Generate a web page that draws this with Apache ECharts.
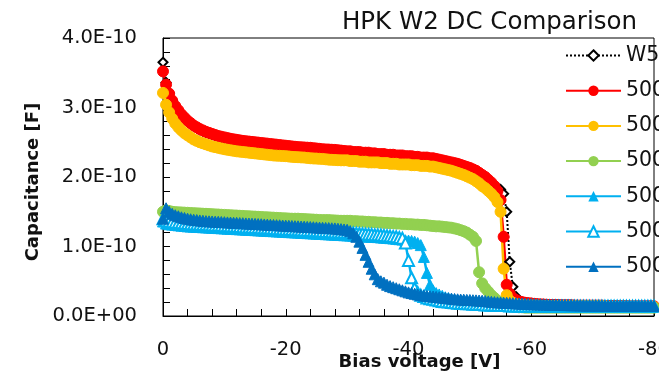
<!DOCTYPE html>
<html><head><meta charset="utf-8">
<script src="https://cdn.jsdelivr.net/npm/echarts@6/dist/echarts.min.js"></script>
<style>html,body{margin:0;padding:0;background:#fff}#c{width:659px;height:377px}</style>
</head><body><div id="c"></div>
<script>
// Bias voltage [V], one row per 5 V
const voltage = [
 0,-0.5,-1,-1.5,-2,-2.5,-3,-3.5,-4,-4.5,
 -5,-5.5,-6,-6.5,-7,-7.5,-8,-8.5,-9,-9.5,
 -10,-10.5,-11,-11.5,-12,-12.5,-13,-13.5,-14,-14.5,
 -15,-15.5,-16,-16.5,-17,-17.5,-18,-18.5,-19,-19.5,
 -20,-20.5,-21,-21.5,-22,-22.5,-23,-23.5,-24,-24.5,
 -25,-25.5,-26,-26.5,-27,-27.5,-28,-28.5,-29,-29.5,
 -30,-30.5,-31,-31.5,-32,-32.5,-33,-33.5,-34,-34.5,
 -35,-35.5,-36,-36.5,-37,-37.5,-38,-38.5,-39,-39.5,
 -40,-40.5,-41,-41.5,-42,-42.5,-43,-43.5,-44,-44.5,
 -45,-45.5,-46,-46.5,-47,-47.5,-48,-48.5,-49,-49.5,
 -50,-50.5,-51,-51.5,-52,-52.5,-53,-53.5,-54,-54.5,
 -55,-55.5,-56,-56.5,-57,-57.5,-58,-58.5,-59,-59.5,
 -60,-60.5,-61,-61.5,-62,-62.5,-63,-63.5,-64,-64.5,
 -65,-65.5,-66,-66.5,-67,-67.5,-68,-68.5,-69,-69.5,
 -70,-70.5,-71,-71.5,-72,-72.5,-73,-73.5,-74,-74.5,
 -75,-75.5,-76,-76.5,-77,-77.5,-78,-78.5,-79,-79.5,
 -80];

// Capacitance in units of 1E-10 F (same rows as voltage)
const capW5 = [
 3.65,3.36,3.21,3.10,3.01,2.95,2.89,2.845,2.80,2.765,
 2.73,2.705,2.68,2.66,2.64,2.625,2.61,2.595,2.58,2.57,
 2.56,2.55,2.54,2.532,2.525,2.517,2.51,2.505,2.50,2.495,
 2.49,2.485,2.48,2.475,2.47,2.465,2.46,2.455,2.45,2.445,
 2.44,2.435,2.43,2.425,2.42,2.418,2.415,2.412,2.41,2.405,
 2.40,2.395,2.39,2.387,2.385,2.382,2.38,2.375,2.37,2.365,
 2.36,2.36,2.35,2.35,2.35,2.34,2.34,2.34,2.33,2.33,
 2.32,2.32,2.32,2.31,2.31,2.31,2.30,2.30,2.30,2.29,
 2.29,2.29,2.28,2.28,2.27,2.27,2.27,2.26,2.26,2.25,
 2.24,2.23,2.22,2.21,2.20,2.19,2.18,2.165,2.15,2.135,
 2.12,2.10,2.08,2.05,2.02,1.99,1.95,1.92,1.88,1.85,
 1.82,1.76,1.50,0.78,0.42,0.28,0.22,0.20,0.19,0.185,
 0.18,0.175,0.17,0.167,0.165,0.162,0.16,0.16,0.16,0.157,
 0.155,0.155,0.155,0.155,0.15,0.15,0.15,0.15,0.15,0.15,
 0.15,0.15,0.15,0.15,0.145,0.145,0.145,0.145,0.145,0.145,
 0.145,0.145,0.14,0.14,0.14,0.14,0.14,0.14,0.14,0.14,
 0.14];

const capRed = [
 3.52,3.33,3.20,3.10,3.02,2.96,2.90,2.855,2.81,2.775,
 2.74,2.715,2.69,2.67,2.65,2.635,2.62,2.605,2.59,2.58,
 2.57,2.56,2.55,2.542,2.535,2.527,2.52,2.515,2.51,2.505,
 2.50,2.495,2.49,2.485,2.48,2.475,2.47,2.465,2.46,2.455,
 2.45,2.445,2.44,2.435,2.43,2.428,2.425,2.422,2.42,2.415,
 2.41,2.405,2.40,2.397,2.395,2.392,2.39,2.385,2.38,2.375,
 2.37,2.37,2.36,2.36,2.36,2.35,2.35,2.35,2.34,2.34,
 2.33,2.33,2.33,2.32,2.32,2.32,2.31,2.31,2.31,2.30,
 2.30,2.30,2.29,2.29,2.28,2.28,2.28,2.27,2.27,2.26,
 2.25,2.24,2.23,2.22,2.21,2.20,2.19,2.175,2.16,2.145,
 2.13,2.11,2.09,2.06,2.03,2.00,1.96,1.92,1.87,1.80,
 1.67,1.14,0.45,0.32,0.26,0.23,0.21,0.20,0.19,0.185,
 0.18,0.175,0.17,0.167,0.165,0.162,0.16,0.16,0.16,0.157,
 0.155,0.155,0.155,0.155,0.15,0.15,0.15,0.15,0.15,0.15,
 0.15,0.15,0.15,0.15,0.145,0.145,0.145,0.145,0.145,0.145,
 0.145,0.145,0.14,0.14,0.14,0.14,0.14,0.14,0.14,0.14,
 0.14];

const capYellow = [
 3.21,3.04,2.93,2.84,2.77,2.715,2.67,2.63,2.60,2.57,
 2.54,2.52,2.50,2.485,2.47,2.455,2.44,2.43,2.42,2.41,
 2.40,2.392,2.385,2.377,2.37,2.365,2.36,2.355,2.35,2.345,
 2.34,2.335,2.33,2.325,2.32,2.315,2.31,2.307,2.305,2.302,
 2.30,2.295,2.29,2.287,2.285,2.282,2.28,2.275,2.27,2.267,
 2.265,2.262,2.26,2.255,2.25,2.247,2.245,2.242,2.24,2.24,
 2.24,2.23,2.23,2.23,2.22,2.22,2.22,2.21,2.21,2.21,
 2.21,2.20,2.20,2.20,2.19,2.19,2.19,2.18,2.18,2.18,
 2.18,2.17,2.17,2.17,2.16,2.16,2.16,2.15,2.15,2.14,
 2.13,2.12,2.11,2.10,2.09,2.075,2.06,2.045,2.03,2.01,
 1.99,1.97,1.94,1.91,1.87,1.84,1.80,1.76,1.71,1.64,
 1.50,0.68,0.30,0.22,0.19,0.17,0.16,0.155,0.15,0.15,
 0.15,0.15,0.15,0.147,0.145,0.145,0.145,0.142,0.14,0.14,
 0.14,0.14,0.14,0.14,0.14,0.14,0.14,0.14,0.14,0.14,
 0.14,0.14,0.14,0.14,0.14,0.135,0.135,0.135,0.135,0.135,
 0.135,0.135,0.135,0.135,0.135,0.13,0.13,0.13,0.13,0.13,
 0.13];

const capGreen = [
 1.50,1.52,1.51,1.50,1.495,1.492,1.49,1.487,1.485,1.482,
 1.48,1.477,1.475,1.472,1.47,1.467,1.465,1.462,1.46,1.457,
 1.455,1.452,1.45,1.447,1.445,1.442,1.44,1.437,1.435,1.432,
 1.43,1.427,1.425,1.422,1.42,1.417,1.415,1.412,1.41,1.407,
 1.405,1.402,1.40,1.40,1.40,1.397,1.395,1.392,1.39,1.387,
 1.385,1.382,1.38,1.38,1.38,1.377,1.375,1.372,1.37,1.37,
 1.37,1.37,1.365,1.365,1.36,1.36,1.355,1.355,1.35,1.35,
 1.345,1.345,1.34,1.34,1.335,1.335,1.33,1.33,1.325,1.325,
 1.32,1.32,1.315,1.315,1.31,1.31,1.305,1.30,1.295,1.29,
 1.29,1.285,1.28,1.275,1.27,1.26,1.25,1.235,1.22,1.20,
 1.17,1.14,1.08,0.63,0.47,0.40,0.35,0.30,0.26,0.22,
 0.19,0.17,0.15,0.14,0.135,0.13,0.125,0.125,0.12,0.12,
 0.12,0.12,0.12,0.12,0.12,0.12,0.12,0.12,0.12,0.12,
 0.12,0.12,0.12,0.12,0.12,0.12,0.12,0.12,0.12,0.12,
 0.12,0.12,0.12,0.12,0.12,0.12,0.12,0.12,0.12,0.12,
 0.12,0.12,0.12,0.12,0.12,0.12,0.12,0.12,0.12,0.12,
 0.12];

const capLightBlue = [
 1.36,1.33,1.32,1.315,1.31,1.305,1.30,1.295,1.29,1.287,
 1.285,1.282,1.28,1.277,1.275,1.272,1.27,1.267,1.265,1.262,
 1.26,1.257,1.255,1.252,1.25,1.247,1.245,1.242,1.24,1.237,
 1.235,1.232,1.23,1.227,1.225,1.222,1.22,1.217,1.215,1.212,
 1.21,1.207,1.205,1.202,1.20,1.197,1.195,1.192,1.19,1.187,
 1.185,1.182,1.18,1.177,1.175,1.172,1.17,1.167,1.165,1.162,
 1.16,1.157,1.155,1.152,1.15,1.147,1.145,1.142,1.14,1.137,
 1.135,1.13,1.127,1.123,1.12,1.115,1.11,1.105,1.10,1.09,
 1.085,1.08,1.07,1.05,1.02,0.85,0.62,0.45,0.37,0.33,
 0.31,0.29,0.27,0.257,0.245,0.235,0.225,0.217,0.21,0.205,
 0.20,0.195,0.19,0.185,0.18,0.175,0.17,0.165,0.16,0.16,
 0.155,0.155,0.15,0.15,0.15,0.145,0.145,0.145,0.145,0.145,
 0.145,0.145,0.145,0.145,0.145,0.145,0.145,0.145,0.145,0.145,
 0.14,0.14,0.14,0.14,0.14,0.14,0.14,0.14,0.14,0.14,
 0.14,0.14,0.14,0.14,0.14,0.14,0.14,0.14,0.14,0.14,
 0.14,0.14,0.14,0.14,0.14,0.14,0.14,0.14,0.14,0.14,
 0.14];

const capLightBlueOpen = [
 1.40,1.37,1.36,1.355,1.35,1.345,1.34,1.335,1.33,1.327,
 1.325,1.322,1.32,1.317,1.315,1.312,1.31,1.307,1.305,1.302,
 1.30,1.297,1.295,1.292,1.29,1.287,1.285,1.282,1.28,1.277,
 1.275,1.272,1.27,1.267,1.265,1.262,1.26,1.257,1.255,1.252,
 1.25,1.247,1.245,1.242,1.24,1.237,1.235,1.232,1.23,1.227,
 1.225,1.222,1.22,1.217,1.215,1.212,1.21,1.207,1.205,1.202,
 1.20,1.197,1.195,1.19,1.188,1.185,1.18,1.178,1.175,1.17,
 1.168,1.165,1.16,1.155,1.15,1.145,1.14,1.13,1.12,1.05,
 0.80,0.55,0.40,0.34,0.30,0.28,0.26,0.25,0.24,0.23,
 0.22,0.21,0.205,0.20,0.195,0.19,0.185,0.18,0.18,0.175,
 0.175,0.17,0.17,0.165,0.165,0.16,0.16,0.155,0.155,0.15,
 0.15,0.15,0.15,0.145,0.145,0.145,0.145,0.14,0.14,0.14,
 0.14,0.14,0.14,0.14,0.14,0.14,0.14,0.14,0.14,0.14,
 0.14,0.14,0.14,0.14,0.14,0.14,0.14,0.14,0.14,0.14,
 0.14,0.14,0.14,0.14,0.14,0.14,0.14,0.14,0.14,0.14,
 0.14,0.14,0.14,0.14,0.14,0.14,0.14,0.14,0.14,0.14,
 0.14];

const capDarkBlue = [
 1.40,1.55,1.50,1.47,1.45,1.435,1.42,1.41,1.40,1.392,
 1.385,1.38,1.375,1.37,1.365,1.362,1.36,1.357,1.355,1.352,
 1.35,1.347,1.345,1.342,1.34,1.337,1.335,1.332,1.33,1.327,
 1.325,1.322,1.32,1.317,1.315,1.312,1.31,1.307,1.305,1.302,
 1.30,1.297,1.295,1.292,1.29,1.287,1.285,1.282,1.28,1.277,
 1.275,1.272,1.27,1.267,1.265,1.262,1.26,1.255,1.25,1.245,
 1.24,1.22,1.19,1.14,1.07,0.98,0.88,0.78,0.68,0.60,
 0.53,0.50,0.48,0.45,0.43,0.415,0.40,0.385,0.37,0.355,
 0.34,0.33,0.32,0.31,0.30,0.295,0.29,0.285,0.28,0.275,
 0.27,0.265,0.26,0.255,0.25,0.245,0.24,0.237,0.235,0.232,
 0.23,0.227,0.225,0.222,0.22,0.215,0.21,0.205,0.20,0.197,
 0.195,0.192,0.19,0.187,0.185,0.182,0.18,0.177,0.175,0.172,
 0.17,0.17,0.167,0.167,0.165,0.165,0.162,0.162,0.16,0.16,
 0.16,0.157,0.157,0.155,0.155,0.155,0.152,0.152,0.15,0.15,
 0.15,0.15,0.15,0.15,0.147,0.147,0.147,0.147,0.145,0.145,
 0.145,0.145,0.145,0.145,0.145,0.145,0.145,0.145,0.145,0.145,
 0.145];

const seriesNames = ['W5 Ref','5001 DC','5002 DC','5003 DC','5004 DC','5005 DC','5006 DC'];
const yTicks = [0,1,2,3,4];
const xTicks = [0,-20,-40,-60,-80];

const FONT = 'DejaVu Sans';
function pairs(vals){ return voltage.map((v,i)=>[v, vals[i]]); }
function lineSeries(name, vals, color, symbol, size, extra){
  return Object.assign({
    name, type:'line', data:pairs(vals), symbol, symbolSize:size, showSymbol:true,
    showAllSymbol:true, clip:false, animation:false,
    lineStyle:{color, width:2.5},
    itemStyle:{color, borderColor:color}
  }, extra||{});
}

const chart = echarts.init(document.getElementById('c'), null, {renderer:'canvas'});
chart.setOption({
  animation:false,
  backgroundColor:'#fff',
  title:{text:'HPK W2 DC Comparison', right:17, top:5,
    textStyle:{fontFamily:FONT, fontSize:24.5, fontWeight:'normal', color:'#111'}},
  grid:{left:163, right:5, top:38, bottom:61, show:true, borderColor:'#000', borderWidth:1,
    backgroundColor:'transparent', containLabel:false, outerBoundsMode:'none'},
  legend:{orient:'vertical', left:560, top:40, padding:5, itemWidth:55, itemHeight:13, itemGap:14.2,
    data:seriesNames,
    textStyle:{fontFamily:FONT, fontSize:20.5, color:'#111', padding:[0,0,0,0]}},
  xAxis:{type:'value', min:-80, max:0, interval:20, inverse:true,
    name:'Bias voltage [V]', nameLocation:'middle', nameGap:37, nameMoveOverlap:false,
    nameTextStyle:{fontFamily:FONT, fontSize:18, fontWeight:'bold', color:'#111', padding:[0,0,0,22]},
    axisLine:{lineStyle:{color:'#000', width:1}},
    axisTick:{inside:true, length:7, lineStyle:{color:'#000'}},
    minorTick:{show:true, splitNumber:5, length:7, lineStyle:{color:'#000'}},
    splitLine:{show:false},
    axisLabel:{fontFamily:FONT, fontSize:19.5, color:'#111', margin:24,
      formatter:v=> xTicks.indexOf(v)>=0 ? String(v) : ''}},
  yAxis:{type:'value', min:0, max:4, interval:1,
    name:'Capacitance [F]', nameLocation:'middle', nameGap:121, nameRotate:90, nameMoveOverlap:false,
    nameTextStyle:{fontFamily:FONT, fontSize:18, fontWeight:'bold', color:'#111', padding:[0,10,0,0]},
    axisLine:{lineStyle:{color:'#000', width:1}},
    axisTick:{inside:true, length:7, lineStyle:{color:'#000'}},
    minorTick:{show:true, splitNumber:5, length:7, lineStyle:{color:'#000'}},
    splitLine:{show:false},
    axisLabel:{fontFamily:FONT, fontSize:19.5, color:'#111', margin:26,
      formatter:v=> yTicks.indexOf(v)<0 ? '' : (v===0 ? '0.0E+00' : v.toFixed(1)+'E-10')}},
  series:[
    lineSeries(seriesNames[0], capW5, '#000', 'emptyDiamond', 9,
      {lineStyle:{color:'#000', width:2, type:'dotted'}, itemStyle:{color:'#000', borderColor:'#000', borderWidth:1.5}}),
    lineSeries(seriesNames[1], capRed, '#FF0000', 'circle', 11),
    lineSeries(seriesNames[2], capYellow, '#FFC000', 'circle', 11),
    lineSeries(seriesNames[3], capGreen, '#92D050', 'circle', 11),
    lineSeries(seriesNames[4], capLightBlue, '#00B0F0', 'triangle', 11),
    lineSeries(seriesNames[5], capLightBlueOpen, '#00B0F0', 'emptyTriangle', 11,
      {itemStyle:{color:'#00B0F0', borderColor:'#00B0F0', borderWidth:1.5}}),
    lineSeries(seriesNames[6], capDarkBlue, '#0070C0', 'triangle', 11)
  ]
});
</script></body></html>
